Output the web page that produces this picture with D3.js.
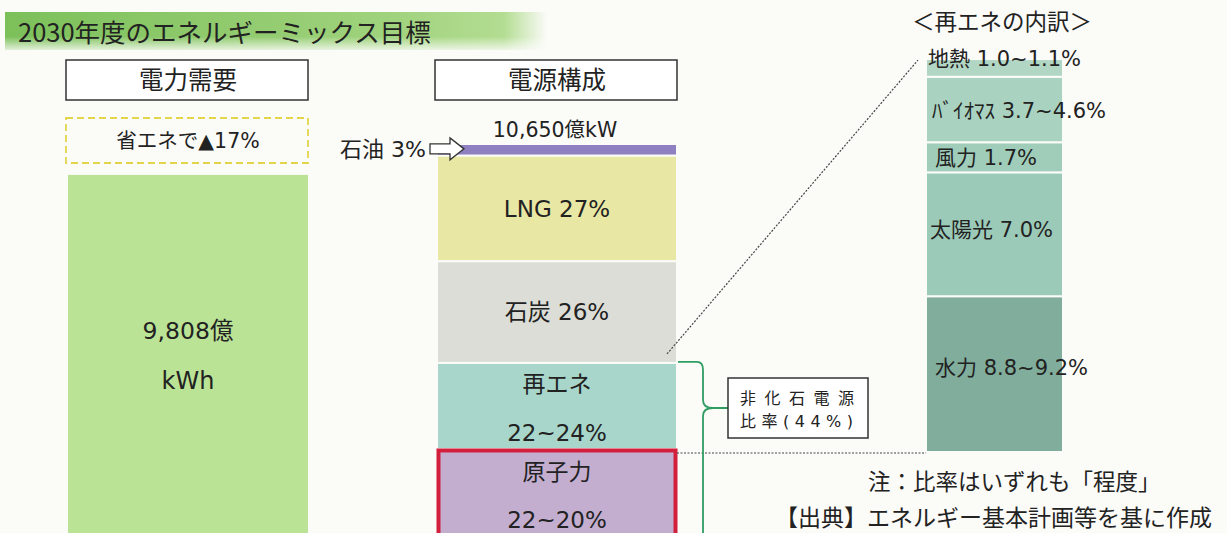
<!DOCTYPE html>
<html>
<head>
<meta charset="utf-8">
<script src="https://cdn.jsdelivr.net/npm/d3@7"></script>
<style>
  body { margin: 0; background: #fbfbf8; }
  svg { display: block; }
  text { font-family: "DejaVu Sans", "Noto Sans CJK JP", sans-serif; fill: #222; }
</style>
</head>
<body>
<svg id="chart"></svg>
<script>
// demand (億kWh) and generation total
const demandTotal = 9808;
const mixTotal = 10650;

// power source mix, top to bottom (%)
const mixCategories = ['石油', 'LNG', '石炭', '再エネ', '原子力'];
const mixValues = [3, 27, 26, 22, 22];
const mixColors = ['#8f80c2', '#e9e7a4', '#dcddd6', '#a8d6ca', '#c3aed0'];

// renewables breakdown, top to bottom (% lower bound)
const renewCategories = ['地熱', 'バイオマス', '風力', '太陽光', '水力'];
const renewValues = [1.0, 3.7, 1.7, 7.0, 8.8];
const renewLabels = ['地熱 1.0~1.1%', 'ﾊﾞｲｵﾏｽ 3.7~4.6%', '風力 1.7%', '太陽光 7.0%', '水力 8.8~9.2%'];
const renewColors = ['#b2d6c4', '#a9d2c0', '#a0cdba', '#9ccab8', '#80ad9c'];

const width = 1227, height = 533;
const svg = d3.select('#chart').attr('width', width).attr('height', height);
const jp = '"Noto Sans CJK JP", sans-serif';

const defs = svg.append('defs');
let g1 = defs.append('linearGradient').attr('id', 'titleGrad').attr('x1', 0).attr('x2', 1).attr('y1', 0).attr('y2', 0);
g1.append('stop').attr('offset', '0%').attr('stop-color', '#7cc05a');
g1.append('stop').attr('offset', '70%').attr('stop-color', '#9fd27c');
g1.append('stop').attr('offset', '92%').attr('stop-color', '#b3dd92');
g1.append('stop').attr('offset', '100%').attr('stop-color', '#fbfbf8');
let g2 = defs.append('linearGradient').attr('id', 'titleFade').attr('x1', 0).attr('x2', 0).attr('y1', 0).attr('y2', 1);
g2.append('stop').attr('offset', '0%').attr('stop-color', '#fff').attr('stop-opacity', 0);
g2.append('stop').attr('offset', '65%').attr('stop-color', '#fff').attr('stop-opacity', 0);
g2.append('stop').attr('offset', '100%').attr('stop-color', '#fbfbf8').attr('stop-opacity', 0.8);

// title band
svg.append('rect').attr('x', 5).attr('y', 12).attr('width', 542).attr('height', 38).attr('fill', 'url(#titleGrad)');
svg.append('rect').attr('x', 5).attr('y', 12).attr('width', 542).attr('height', 38).attr('fill', 'url(#titleFade)');
svg.append('text').attr('x', 18).attr('y', 42).attr('font-size', 25.5)
  .style('font-family', jp)
  .text('2030年度のエネルギーミックス目標');

// scales
const barTop = 144, barBottom = 535;
const yMix = d3.scaleLinear().domain([0, 100]).range([barTop, barBottom]);
const yEnergy = d3.scaleLinear().domain([0, mixTotal]).range([0, barBottom - barTop]);
const xLeft = 68, xMid = 437, barW = 240;

function headerBox(x, label) {
  svg.append('rect').attr('x', x - 2).attr('y', 60).attr('width', barW + 2).attr('height', 40)
    .attr('fill', '#fff').attr('stroke', '#333').attr('stroke-width', 1.5);
  svg.append('text').attr('x', x + barW / 2).attr('y', 89).attr('text-anchor', 'middle')
    .attr('font-size', 24.5).text(label);
}
headerBox(xLeft, '電力需要');
headerBox(xMid, '電源構成');

// demand side
svg.append('rect').attr('x', xLeft - 2).attr('y', 118).attr('width', barW + 2).attr('height', 45)
  .attr('fill', 'none').attr('stroke', '#e3d54a').attr('stroke-width', 1.8).attr('stroke-dasharray', '7,4');
svg.append('text').attr('x', xLeft + barW / 2).attr('y', 148).attr('text-anchor', 'middle')
  .attr('font-size', 20.5).text('省エネで▲17%');

const demandH = yEnergy(demandTotal);
svg.append('rect').attr('x', xLeft).attr('y', barBottom - demandH).attr('width', barW).attr('height', demandH)
  .attr('fill', '#bbe395');
svg.append('text').attr('x', xLeft + barW / 2).attr('y', 339).attr('text-anchor', 'middle')
  .attr('font-size', 23.5).text(d3.format(',')(demandTotal) + '億');
svg.append('text').attr('x', xLeft + barW / 2).attr('y', 389).attr('text-anchor', 'middle')
  .attr('font-size', 24).text('kWh');

// mix stack
const mixStack = [];
let acc = 0;
mixValues.forEach((v, i) => { mixStack.push({ cat: mixCategories[i], v: v, y0: acc, y1: acc + v, color: mixColors[i] }); acc += v; });

svg.append('g').selectAll('rect').data(mixStack).enter().append('rect')
  .attr('x', xMid).attr('width', barW)
  .attr('y', d => yMix(d.y0))
  .attr('height', d => yMix(d.y1) - yMix(d.y0))
  .attr('fill', d => d.color)
  .attr('stroke', '#fbfbf8').attr('stroke-width', 2);

// nuclear outline
const nuc = mixStack[4];
svg.append('rect').attr('x', xMid + 1.5).attr('y', yMix(nuc.y0) + 1.5).attr('width', barW - 3)
  .attr('height', yMix(nuc.y1) - yMix(nuc.y0))
  .attr('fill', 'none').attr('stroke', '#d2203c').attr('stroke-width', 4);

svg.append('text').attr('x', xMid + barW / 2 - 2).attr('y', 137).attr('text-anchor', 'middle')
  .attr('font-size', 20.5).text(d3.format(',')(mixTotal) + '億kW');

const cx = xMid + barW / 2;
const mid = d => (yMix(d.y0) + yMix(d.y1)) / 2;
const fs = 23;
svg.append('text').attr('x', cx).attr('y', mid(mixStack[1]) + 8).attr('text-anchor', 'middle').attr('font-size', fs).text('LNG 27%');
svg.append('text').attr('x', cx).attr('y', mid(mixStack[2]) + 8).attr('text-anchor', 'middle').attr('font-size', fs).text('石炭 26%');
svg.append('text').attr('x', cx).attr('y', yMix(mixStack[3].y0) + 29).attr('text-anchor', 'middle').attr('font-size', fs).text('再エネ');
svg.append('text').attr('x', cx).attr('y', yMix(mixStack[3].y0) + 78).attr('text-anchor', 'middle').attr('font-size', fs).text('22~24%');
svg.append('text').attr('x', cx).attr('y', yMix(nuc.y0) + 31).attr('text-anchor', 'middle').attr('font-size', fs).text('原子力');
svg.append('text').attr('x', cx).attr('y', yMix(nuc.y0) + 79).attr('text-anchor', 'middle').attr('font-size', fs).text('22~20%');

// oil label and arrow
const oilY = mid(mixStack[0]) - 1;
svg.append('text').attr('x', 340).attr('y', oilY + 8).attr('font-size', 22).text('石油 3%');
const ax = 430;
svg.append('path')
  .attr('d', `M${ax},${oilY - 5} L${ax + 20},${oilY - 5} L${ax + 20},${oilY - 11} L${ax + 34},${oilY} L${ax + 20},${oilY + 11} L${ax + 20},${oilY + 5} L${ax},${oilY + 5} Z`)
  .attr('fill', '#fff').attr('stroke', '#333').attr('stroke-width', 1.3);

// renewables breakdown
const rX = 926, rW = 137, rBottom = 452;
const renewSum = d3.sum(renewValues);
const yRenew = d3.scaleLinear().domain([0, renewSum]).range([rBottom, rBottom - renewSum * 17.7]);
const renewStack = [];
let racc = 0;
for (let i = renewValues.length - 1; i >= 0; i--) {
  renewStack.push({ label: renewLabels[i], y0: racc, y1: racc + renewValues[i], color: renewColors[i], idx: i });
  racc += renewValues[i];
}
svg.append('g').selectAll('rect').data(renewStack).enter().append('rect')
  .attr('x', rX).attr('width', rW)
  .attr('y', d => yRenew(d.y1))
  .attr('height', d => yRenew(d.y0) - yRenew(d.y1))
  .attr('fill', d => d.color)
  .attr('stroke', '#fbfbf8').attr('stroke-width', 2);

const labelOffsets = { 0: [2, -1], 1: [6, 0], 2: [9, 0], 3: [4, -5], 4: [9, -7] };
svg.append('g').selectAll('text').data(renewStack).enter().append('text')
  .attr('x', d => rX + labelOffsets[d.idx][0])
  .attr('y', d => (d.idx === 0 ? yRenew(d.y1) + 7 : (yRenew(d.y0) + yRenew(d.y1)) / 2 + 8 + labelOffsets[d.idx][1]))
  .attr('font-size', 21)
  .text(d => d.label);

svg.append('text').attr('x', 912).attr('y', 30).attr('font-size', 22.5)
  .style('font-family', jp).text('＜再エネの内訳＞');

// connector lines
const coalBottom = yMix(mixStack[2].y1);
svg.append('line').attr('x1', xMid + barW - 10).attr('y1', coalBottom - 9).attr('x2', rX - 8).attr('y2', yRenew(renewSum) + 1)
  .attr('stroke', '#444').attr('stroke-width', 1.2).attr('stroke-dasharray', '2,1.5');
svg.append('line').attr('x1', xMid + barW).attr('y1', rBottom + 1).attr('x2', rX).attr('y2', rBottom + 1)
  .attr('stroke', '#444').attr('stroke-width', 1.2).attr('stroke-dasharray', '2,1.5');

// non-fossil bracket
const bx = 703, by0 = coalBottom - 1, byMid = 408;
svg.append('path')
  .attr('d', `M${xMid + barW + 1},${by0} L${bx - 6},${by0} Q${bx},${by0} ${bx},${by0 + 8} L${bx},${byMid - 8} Q${bx},${byMid} ${bx + 10},${byMid} L${728},${byMid} M${bx + 10},${byMid} Q${bx},${byMid} ${bx},${byMid + 8} L${bx},${height + 5}`)
  .attr('fill', 'none').attr('stroke', '#2f9d62').attr('stroke-width', 1.8);

svg.append('rect').attr('x', 728).attr('y', 378).attr('width', 140).attr('height', 60)
  .attr('fill', '#fff').attr('stroke', '#333').attr('stroke-width', 1.5);
svg.append('text').attr('x', 740).attr('y', 404).attr('font-size', 16).attr('letter-spacing', 8.5).text('非化石電源');
svg.append('text').attr('x', 740).attr('y', 427).attr('font-size', 16).attr('letter-spacing', 5.5).text('比率(44%)');

// notes
svg.append('text').attr('x', 868).attr('y', 490).attr('font-size', 22.5)
  .style('font-family', jp).text('注：比率はいずれも「程度」');
svg.append('text').attr('x', 775).attr('y', 526).attr('font-size', 23)
  .style('font-family', jp).text('【出典】エネルギー基本計画等を基に作成');
</script>
</body>
</html>
